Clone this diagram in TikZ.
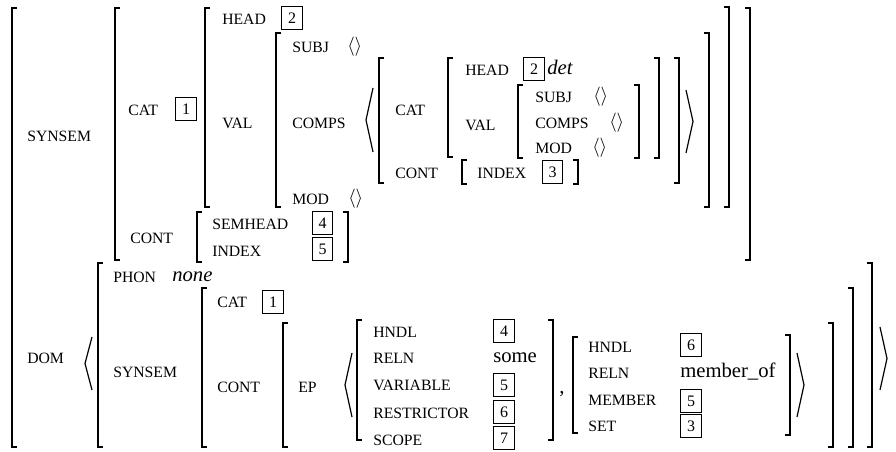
\documentclass[tikz,border=0pt]{standalone}
\usepackage{fontspec}
\setmainfont{Liberation Serif}
\usepackage{tikz}
\usetikzlibrary{calc}

% brackets and angles, given as x, top y, bottom y
\newcommand{\avmL}[3]{\draw[brak] (#1+5,#2)--(#1,#2)--(#1,#3)--(#1+5,#3);}
\newcommand{\avmR}[3]{\draw[brak] (#1-5,#2)--(#1,#2)--(#1,#3)--(#1-5,#3);}
\newcommand{\avmLA}[3]{\draw[brak] (#1+7,#2)--(#1,{(#2+#3)/2})--(#1+7,#3);}
\newcommand{\avmRA}[3]{\draw[brak] (#1,#2)--(#1+7,{(#2+#3)/2})--(#1,#3);}

\tikzset{
  feat/.style={anchor=west,inner sep=0pt,font=\fontsize{11.8}{14}\selectfont,text height=7.8pt,text depth=0pt},
  atom/.style={anchor=base west,inner sep=0pt,font=\fontsize{15.5}{18}\selectfont},
  tag/.style={draw,line width=0.6pt,inner sep=0pt,minimum width=15.5pt,minimum height=17pt,font=\fontsize{12}{14}\selectfont},
  elist/.style={anchor=west,inner sep=0pt,font=\fontsize{15.5}{18}\selectfont},
  brak/.style={line width=0.9pt}
}

\begin{document}
\begin{tikzpicture}[x=0.75pt,y=-0.75pt]
\useasboundingbox (0,0) rectangle (896,452);

%Drawing SYNSEM part
\node[feat] (synsem) at (27,136) {SYNSEM};
\node[feat] (cat) at (128,110) {CAT};
\node[tag] (tagA) at (186,109) {1};
\node[feat] (head) at (222,19) {HEAD};
\node[tag] (tagB) at (292,18) {2};
\node[feat] (val) at (222,123) {VAL};
\node[feat] (subj) at (292,47) {SUBJ};
\node[elist] (subjl) at (347,47) {$\langle\rangle$};
\node[feat] (comps) at (292,123) {COMPS};
\node[feat] (mod) at (292,199) {MOD};
\node[elist] (modl) at (348,199) {$\langle\rangle$};

%the element on COMPS
\node[feat] (icat) at (395,110) {CAT};
\node[feat] (ihead) at (465,70) {HEAD};
\node[tag] (tagC) at (534,69) {2};
\node[atom] (det) at (547,75) {\itshape det};
\node[feat] (ival) at (465,125) {VAL};
\node[feat] (isubj) at (535,97) {SUBJ};
\node[elist] (isubjl) at (593,97) {$\langle\rangle$};
\node[feat] (icomps) at (535,123) {COMPS};
\node[elist] (icompsl) at (609,123) {$\langle\rangle$};
\node[feat] (imod) at (535,148) {MOD};
\node[elist] (imodl) at (592,148) {$\langle\rangle$};
\node[feat] (icont) at (395,173) {CONT};
\node[feat] (iindex) at (477,173) {INDEX};
\node[tag] (tagD) at (552.5,172) {3};

\node[feat] (cont) at (130,238) {CONT};
\node[feat] (semhead) at (212,224) {SEMHEAD};
\node[tag] (tagE) at (322.5,223) {4};
\node[feat] (index) at (212,251) {INDEX};
\node[tag] (tagF) at (322.5,249) {5};

%Drawing DOM part
\node[feat] (dom) at (27,358) {DOM};
\node[feat] (phon) at (113,277) {PHON};
\node[atom] (none) at (172,282) {\itshape none};
\node[feat] (dsynsem) at (113,372) {SYNSEM};
\node[feat] (dcat) at (217,302) {CAT};
\node[tag] (tagG) at (273,302) {1};
\node[feat] (dcont) at (217,387) {CONT};
\node[feat] (ep) at (298,387) {EP};

\node[feat] (hndl) at (373,332) {HNDL};
\node[tag] (tagH) at (504,331) {4};
\node[feat] (reln) at (373,358) {RELN};
\node[atom] (some) at (493,363) {some};
\node[feat] (variable) at (373,385) {VARIABLE};
\node[tag] (tagI) at (504,385) {5};
\node[feat] (restr) at (373,413) {RESTRICTOR};
\node[tag] (tagJ) at (504,412) {6};
\node[feat] (scope) at (373,440) {SCOPE};
\node[tag] (tagK) at (504,438) {7};
\node[atom] (comma) at (559,393) {,};

\node[feat] (hndlb) at (588,347) {HNDL};
\node[tag] (tagL) at (691,345) {6};
\node[feat] (relnb) at (588,373) {RELN};
\node[atom] (memberof) at (680,378) {member\_of};
\node[feat] (member) at (588,400) {MEMBER};
\node[tag] (tagM) at (691,401) {5};
\node[feat] (set) at (588,426) {SET};
\node[tag] (tagN) at (691,426) {3};

%left brackets
\avmL{12}{8}{447}
\avmL{115}{8}{260}
\avmL{205}{8}{207}
\avmL{276}{33}{207}
\avmL{379}{58}{183}
\avmL{448}{58}{157}
\avmL{518}{85}{158}
\avmL{462}{160}{184}
\avmL{197}{212}{262}
\avmL{98}{263}{447}
\avmL{202}{288}{447}
\avmL{283}{323}{447}
\avmL{357}{320}{440}
\avmL{573}{337}{433}

%right brackets
\avmR{578}{160}{184}
\avmR{639}{85}{158}
\avmR{659}{58}{158}
\avmR{679}{58}{183}
\avmR{709}{33}{207}
\avmR{729}{7}{207}
\avmR{750}{8}{260}
\avmR{348}{212}{262}
\avmR{553}{320}{440}
\avmR{790}{335}{435}
\avmR{833}{323}{447}
\avmR{853}{288}{447}
\avmR{872}{263}{447}

%list angles
\avmLA{366}{88}{152}
\avmRA{686}{90}{153}
\avmLA{85}{337}{390}
\avmRA{880}{327}{390}
\avmLA{345}{353}{417}
\avmRA{797}{353}{417}

\end{tikzpicture}
\end{document}
